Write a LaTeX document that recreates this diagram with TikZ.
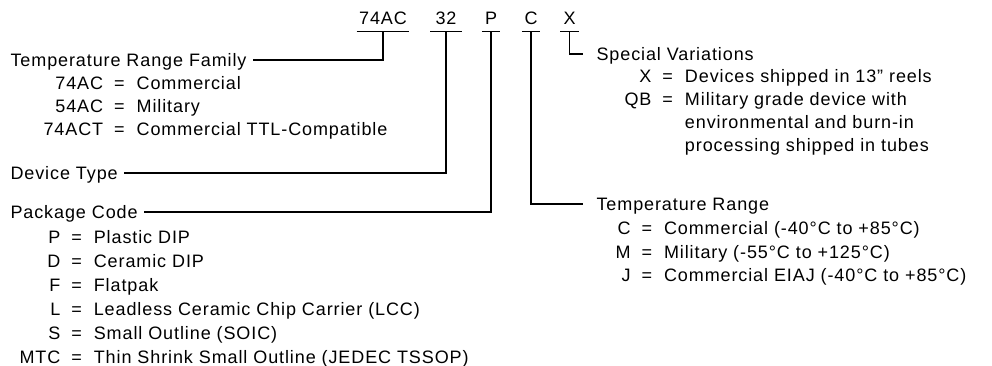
\documentclass[tikz,border=0pt]{standalone}
\usepackage{fontspec}
\usepackage{array}
\setmainfont{Liberation Sans}[LetterSpace=5]
\newcommand{\partfont}{\fontsize{18}{23.5}\selectfont}
\newcolumntype{K}{@{}r@{\hspace{11pt}}c@{\hspace{12pt}}l@{}}
\tikzset{
  code/.style={inner xsep=2pt, inner ysep=6.5pt, text height=13pt, text depth=0pt, minimum width=17pt},
  head/.style={inner ysep=0pt, inner xsep=6pt, text height=13pt, text depth=0pt, anchor=west},
  rhead/.style={head, inner xsep=13pt},
  list/.style={inner sep=0pt, anchor=base west}
}

\begin{document}
\begin{tikzpicture}[x=1pt, y=-1pt, every node/.style={font=\partfont}, line width=1.1pt]
	\useasboundingbox (0,0) rectangle (992,366);
	% part number
	\node[code] (fam) at (383,18) {74AC};
	\node[code, minimum width=30pt] (dev) at (446,18) {32};
	\node[code] (pkg) at (491,18) {P};
	\node[code] (temp) at (531,18) {C};
	\node[code] (var) at (569.5,18) {X};
	\foreach \n in {fam,dev,pkg,temp,var} \draw (\n.south west) -- (\n.south east);
	% left side
	\node[head] (famhd) at (4,60) {Temperature Range Family};
	\node[list, font=\fontsize{18}{23}\selectfont] (famlist) at (43,89.5) {\begin{tabular}[t]{K}
		74AC & = & Commercial\\
		54AC & = & Military\\
		74ACT & = & Commercial TTL-Compatible
	\end{tabular}};
	\node[head] (devhd) at (4,173) {Device Type};
	\node[head] (pkghd) at (4,212) {Package Code};
	\node[list, font=\fontsize{18}{24}\selectfont] (pkglist) at (19,243) {\begin{tabular}[t]{K}
		P & = & Plastic DIP\\
		D & = & Ceramic DIP\\
		F & = & Flatpak\\
		L & = & Leadless Ceramic Chip Carrier (LCC)\\
		S & = & Small Outline (SOIC)\\
		MTC & = & Thin Shrink Small Outline (JEDEC TSSOP)
	\end{tabular}};
	% right side
	\node[rhead] (varhd) at (583,54) {Special Variations};
	\node[list, font=\fontsize{18}{23}\selectfont] (varlist) at (624,82.5) {\begin{tabular}[t]{K}
		X & = & Devices shipped in 13" reels\\
		QB & = & Military grade device with\\
		& & environmental and burn-in\\
		& & processing shipped in tubes
	\end{tabular}};
	\node[rhead] (temphd) at (583,204) {Temperature Range};
	\node[list] (templist) at (615,234.5) {\begin{tabular}[t]{K}
		C & = & Commercial (-40°C to +85°C)\\
		M & = & Military (-55°C to +125°C)\\
		J & = & Commercial EIAJ (-40°C to +85°C)
	\end{tabular}};
	% leaders
	\draw (fam.south) |- (famhd.east);
	\draw (dev.south) |- (devhd.east);
	\draw (pkg.south) |- (pkghd.east);
	\draw (temp.south) |- (temphd.west);
	\draw (var.south) |- (varhd.west);
\end{tikzpicture}
\end{document}
